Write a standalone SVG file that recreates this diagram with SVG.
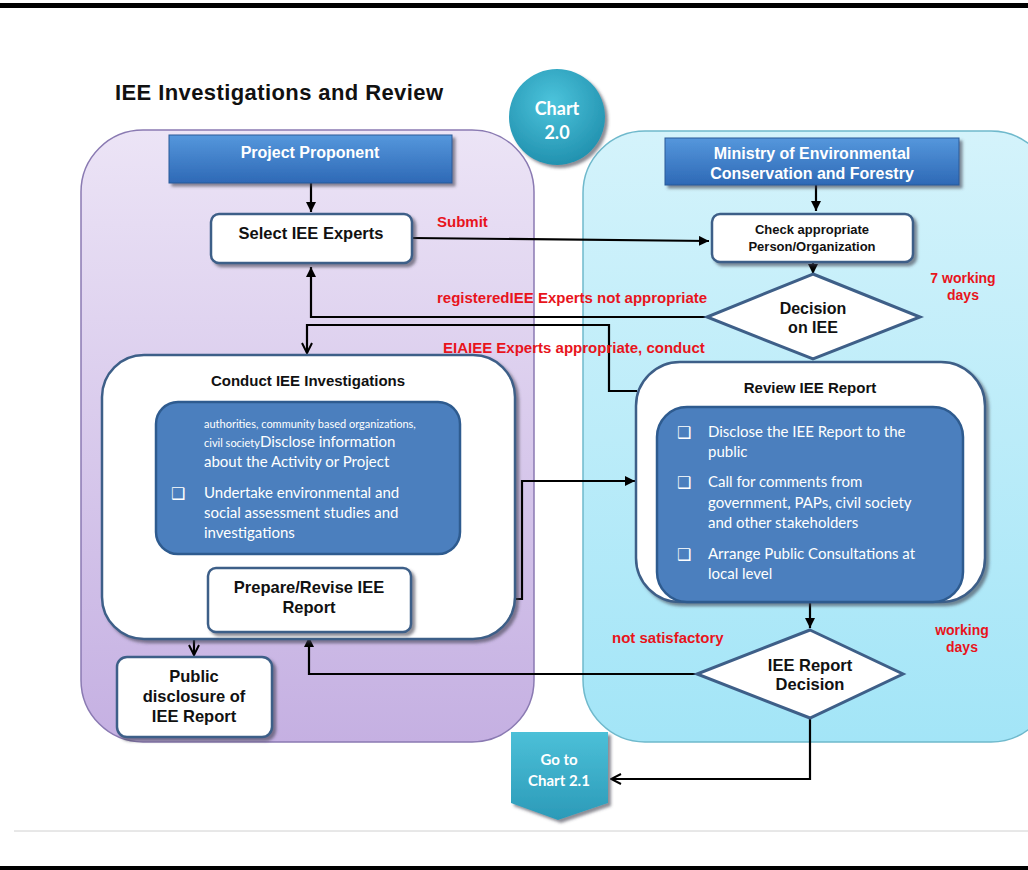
<svg xmlns="http://www.w3.org/2000/svg" width="1028" height="870" viewBox="0 0 1028 870">
<defs>
<linearGradient id="gPurple" x1="0" y1="0" x2="0" y2="1"><stop offset="0" stop-color="#ece4f6"/><stop offset="1" stop-color="#c5b0e2"/></linearGradient>
<linearGradient id="gCyan" x1="0" y1="0" x2="0" y2="1"><stop offset="0" stop-color="#d4f3fb"/><stop offset="1" stop-color="#a3e5f7"/></linearGradient>
<linearGradient id="gHead" x1="0" y1="0" x2="0" y2="1"><stop offset="0" stop-color="#5597dc"/><stop offset="1" stop-color="#2e69b6"/></linearGradient>
<radialGradient id="gCircle" cx="0.45" cy="0.35" r="0.7"><stop offset="0" stop-color="#4cc4dc"/><stop offset="1" stop-color="#1f8eac"/></radialGradient>
<linearGradient id="gGo" x1="0" y1="0" x2="0" y2="1"><stop offset="0" stop-color="#4cc0d8"/><stop offset="1" stop-color="#2b9ab8"/></linearGradient>
<filter id="sh" x="-10%" y="-10%" width="130%" height="130%"><feDropShadow dx="3" dy="3" stdDeviation="1.5" flood-color="#404050" flood-opacity="0.6"/></filter>
<marker id="aF" viewBox="0 0 10 10" refX="10" refY="5" markerWidth="10" markerHeight="10" markerUnits="userSpaceOnUse" orient="auto"><path d="M0,0 L10,5 L0,10 z" fill="#000"/></marker>
<marker id="aO" viewBox="0 0 12 12" refX="11" refY="6" markerWidth="12" markerHeight="12" markerUnits="userSpaceOnUse" orient="auto"><path d="M1,1 L11,6 L1,11" fill="none" stroke="#000" stroke-width="2"/></marker>
<style>
.cont-p{fill:url(#gPurple);stroke:#8a7ab2;stroke-width:1.5}
.cont-c{fill:url(#gCyan);stroke:#6fb9cc;stroke-width:1.5}
.head{fill:url(#gHead);stroke:#2a5a98;stroke-width:1;filter:url(#sh)}
.box{fill:#fff;stroke:#3e5f88;stroke-width:2.5;filter:url(#sh)}
.inner{fill:#4b7fbe;stroke:#2e5b8f;stroke-width:2.5}
.dia{fill:#fff;stroke:#3e5f88;stroke-width:3}
.conn path{fill:none;stroke:#000;stroke-width:2.2}
.b{font-family:"Liberation Sans",Arial,sans-serif;font-weight:bold;fill:#111}
.w{font-family:"Liberation Sans",Arial,sans-serif;font-weight:bold;fill:#fff}
.r{font-family:"Liberation Sans",Arial,sans-serif;font-weight:bold;fill:#e8141c;font-size:15px}
.r2{font-family:"Liberation Sans",Arial,sans-serif;font-weight:bold;fill:#e8141c;font-size:14px}
.c{font-family:Lato,"Open Sans",sans-serif;fill:#fff}
.cb{font-family:Lato,"Open Sans",sans-serif;font-weight:bold;fill:#fff}
.ck{font-family:"DejaVu Sans",sans-serif;fill:#fff;font-size:16px}
</style>
</defs>
<rect width="1028" height="870" fill="#fff"/>
<rect x="0" y="3" width="1028" height="5" fill="#000"/>
<rect x="0" y="866" width="1028" height="4" fill="#000"/>
<line x1="14" y1="831" x2="1028" y2="831" stroke="#d0d0d0" stroke-width="1"/>

<text class="b" x="115" y="100" font-size="22" textLength="328">IEE Investigations and Review</text>

<g id="lane-proponent"><rect class="cont-p" x="81" y="130" width="453" height="612" rx="62"/></g>
<g id="lane-ministry"><rect class="cont-c" x="583" y="131" width="470" height="611" rx="62"/></g>

<g id="chart20">
<circle cx="557" cy="117" r="48" fill="url(#gCircle)" filter="url(#sh)"/>
<text class="cb" x="557" y="115" font-size="18" text-anchor="middle">Chart</text>
<text class="cb" x="557" y="139" font-size="18" text-anchor="middle">2.0</text>
</g>

<g id="connectors" class="conn">
<path d="M311,183 L311,212" marker-end="url(#aF)"/>
<path d="M412,238 L709,241" marker-end="url(#aF)"/>
<path d="M816,185 L816,211" marker-end="url(#aF)"/>
<path d="M813,262 L813,274" marker-end="url(#aF)"/>
<path d="M707,317 L311,317 L311,267" marker-end="url(#aF)"/>
<path d="M637,391 L609,391 L609,325 L307,325 L307,353" marker-end="url(#aO)"/>
<path d="M411,599 L522,599 L522,481 L635,481" marker-end="url(#aF)"/>
<path d="M208,599 L194,599 L194,655" marker-end="url(#aO)"/>
<path d="M810,602 L810,628" marker-end="url(#aF)"/>
<path d="M697,674 L309,674 L309,637" marker-end="url(#aF)"/>
<path d="M810,718 L810,779 L611,779" marker-end="url(#aO)"/>
</g>

<g id="labels">
<text class="r" x="437" y="227">Submit</text>
<text class="r" x="437" y="303">registeredIEE Experts not appropriate</text>
<text class="r" x="443" y="353">EIAIEE Experts appropriate, conduct</text>
<text class="r" x="443" y="586">ubmit</text>
<text class="r" x="612" y="643">not satisfactory</text>
<text class="r2" x="963" y="283" text-anchor="middle">7 working</text>
<text class="r2" x="963" y="300" text-anchor="middle">days</text>
<text class="r2" x="962" y="635" text-anchor="middle">working</text>
<text class="r2" x="962" y="652" text-anchor="middle">days</text>
</g>

<g id="project-proponent">
<rect class="head" x="169" y="135" width="283" height="48"/>
<text class="w" x="310" y="158" font-size="16" text-anchor="middle">Project Proponent</text>
</g>

<g id="ministry">
<rect class="head" x="665" y="138" width="294" height="47"/>
<text class="w" x="812" y="159" font-size="16" text-anchor="middle">Ministry of Environmental</text>
<text class="w" x="812" y="179" font-size="16" text-anchor="middle">Conservation and Forestry</text>
</g>

<g id="select-experts">
<rect class="box" x="211" y="214" width="201" height="49" rx="8"/>
<text class="b" x="311" y="239" font-size="16.5" text-anchor="middle">Select IEE Experts</text>
</g>

<g id="check-person">
<rect class="box" x="712" y="214" width="201" height="48" rx="8"/>
<text class="b" x="812" y="234" font-size="13" text-anchor="middle">Check appropriate</text>
<text class="b" x="812" y="251" font-size="13" text-anchor="middle">Person/Organization</text>
</g>

<g id="decision-iee">
<path class="dia" d="M813,274 L920,317 L813,359 L707,317 z"/>
<text class="b" x="813" y="314" font-size="16" text-anchor="middle">Decision</text>
<text class="b" x="813" y="333" font-size="16" text-anchor="middle">on IEE</text>
</g>

<g id="conduct-iee">
<rect class="box" x="102" y="355" width="413" height="284" rx="42"/>
<text class="b" x="308" y="386" font-size="15" text-anchor="middle">Conduct IEE Investigations</text>
<rect class="inner" x="156" y="402" width="304" height="152" rx="22"/>
<text class="c" x="204" y="428" font-size="11">authorities, community based organizations,</text>
<text class="c" x="204" y="447"><tspan font-size="11">civil society</tspan><tspan font-size="15">Disclose information</tspan></text>
<text class="c" x="204" y="467" font-size="15">about the Activity or Project</text>
<text class="ck" x="171" y="499">❑</text>
<text class="c" x="204" y="498" font-size="15">Undertake environmental and</text>
<text class="c" x="204" y="518" font-size="15">social assessment studies and</text>
<text class="c" x="204" y="538" font-size="15">investigations</text>
</g>

<g id="prepare-report">
<rect class="box" x="208" y="568" width="203" height="64" rx="8"/>
<text class="b" x="309" y="593" font-size="16.5" text-anchor="middle">Prepare/Revise IEE</text>
<text class="b" x="309" y="613" font-size="16.5" text-anchor="middle">Report</text>
</g>

<g id="public-disclosure">
<rect class="box" x="117" y="657" width="155" height="80" rx="10"/>
<text class="b" x="194" y="682" font-size="16.5" text-anchor="middle">Public</text>
<text class="b" x="194" y="702" font-size="16.5" text-anchor="middle">disclosure of</text>
<text class="b" x="194" y="722" font-size="16.5" text-anchor="middle">IEE Report</text>
</g>

<g id="review-report">
<rect class="box" x="636" y="362" width="349" height="240" rx="44"/>
<text class="b" x="810" y="393" font-size="15" text-anchor="middle">Review IEE Report</text>
<rect class="inner" x="657" y="407" width="306" height="195" rx="30"/>
<text class="ck" x="677" y="438">❑</text>
<text class="c" x="708" y="437" font-size="15">Disclose the IEE Report to the</text>
<text class="c" x="708" y="457" font-size="15">public</text>
<text class="ck" x="677" y="488">❑</text>
<text class="c" x="708" y="487" font-size="15">Call for comments from</text>
<text class="c" x="708" y="508" font-size="15">government, PAPs, civil society</text>
<text class="c" x="708" y="528" font-size="15">and other stakeholders</text>
<text class="ck" x="677" y="560">❑</text>
<text class="c" x="708" y="559" font-size="15">Arrange Public Consultations at</text>
<text class="c" x="708" y="579" font-size="15">local level</text>
</g>

<g id="report-decision">
<path class="dia" d="M810,630 L903,674 L810,718 L697,674 z"/>
<text class="b" x="810" y="671" font-size="16.5" text-anchor="middle">IEE Report</text>
<text class="b" x="810" y="690" font-size="16.5" text-anchor="middle">Decision</text>
</g>

<g id="goto-chart21">
<path d="M511,732 L608,732 L608,803 L558,820 L511,803 z" fill="url(#gGo)" filter="url(#sh)"/>
<text class="cb" x="559" y="765" font-size="15" text-anchor="middle">Go to</text>
<text class="cb" x="559" y="786" font-size="15" text-anchor="middle">Chart 2.1</text>
</g>
</svg>
